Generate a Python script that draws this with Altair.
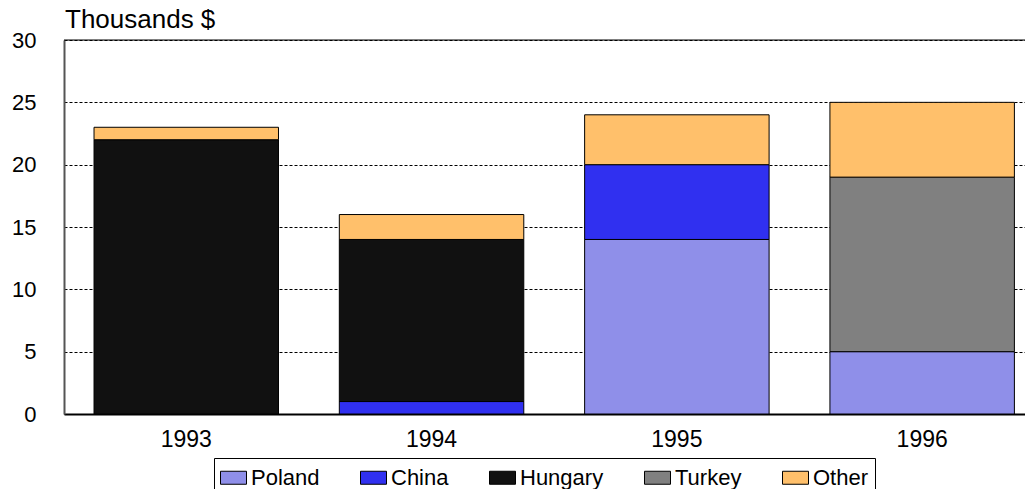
import altair as alt
import pandas as pd

years = ["1993", "1994", "1995", "1996"]
countries = ["Poland", "China", "Hungary", "Turkey", "Other"]
poland = [0, 0, 14, 5]
china = [0, 1, 6, 0]
hungary = [22, 13, 0, 0]
turkey = [0, 0, 0, 14]
other = [1, 2, 4, 6]
colors = ["#8F8FE9", "#3030F0", "#111111", "#808080", "#FFC06B"]
y_ticks = [0, 5, 10, 15, 20, 25, 30]
title_text = "Thousands $"

series = {"Poland": poland, "China": china, "Hungary": hungary, "Turkey": turkey, "Other": other}
rows = []
for ci, c in enumerate(countries):
    for yi, yr in enumerate(years):
        v = series[c][yi]
        if v > 0:
            rows.append({"year": yr, "country": c, "value": v, "ord": ci})
df = pd.DataFrame(rows)

FONT = "Liberation Sans"

bars = alt.Chart(df).mark_bar(stroke="black", strokeWidth=1).encode(
    x=alt.X("year:N", sort=years,
            scale=alt.Scale(paddingInner=0.248, paddingOuter=0.0828, align=0.739),
            axis=alt.Axis(title=None, labelAngle=0, labelFontSize=23, labelFont=FONT,
                          labelColor="black", tickSize=0, labelPadding=14,
                          domainColor="black", domainWidth=2)),
    y=alt.Y("value:Q", stack="zero",
            scale=alt.Scale(domain=[0, 30], nice=False),
            axis=alt.Axis(title=None, values=y_ticks, labelFontSize=22, labelFont=FONT,
                          labelColor="black", tickSize=0, labelPadding=28,
                          domainColor="#555555", domainWidth=2,
                          grid=True, gridColor="black", gridDash=[3, 2], gridWidth=1)),
    color=alt.Color("country:N", scale=alt.Scale(domain=countries, range=colors),
                    legend=alt.Legend(title=None, orient="none", legendX=150, legendY=418,
                                      direction="horizontal", strokeColor="black",
                                      fillColor="white", padding=6,
                                      symbolType="M-1,-0.5H1V0.5H-1Z", symbolSize=676,
                                      symbolStrokeColor="black", symbolStrokeWidth=1,
                                      symbolOpacity=1,
                                      labelFontSize=22, labelFont=FONT, labelColor="black",
                                      labelOffset=4, columnPadding=38)),
    order=alt.Order("ord:Q"),
)

top_line = alt.Chart(pd.DataFrame({"v": [30]})).mark_rule(color="black", strokeWidth=1).encode(
    y=alt.Y("v:Q")
)

title = alt.Chart(pd.DataFrame({"t": [title_text]})).mark_text(
    align="left", baseline="alphabetic", fontSize=26, font=FONT, color="black"
).encode(x=alt.value(1), y=alt.value(-12), text="t:N")

chart = alt.layer(bars, top_line, title).properties(
    width=961, height=374,
    autosize=alt.AutoSizeParams(type="none"),
    padding={"left": 56, "top": 32, "right": 0, "bottom": 80},
).configure_view(stroke=None).configure(background="white")

chart.save("out.html", embed_options={"renderer": "svg", "actions": False})
